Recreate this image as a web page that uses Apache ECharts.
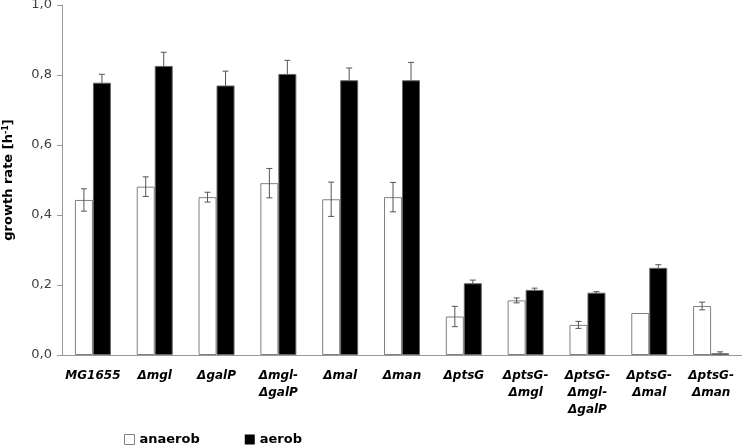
<!DOCTYPE html>
<html>
<head>
<meta charset="utf-8">
<script src="https://cdn.jsdelivr.net/npm/echarts@6/dist/echarts.min.js"></script>
<style>
  html, body { margin: 0; padding: 0; background: #fff; }
  #chart { width: 742px; height: 445px; }
</style>
</head>
<body>
<div id="chart"></div>
<script>
// strains
var strains = ['MG1655', 'Δmgl', 'ΔgalP', 'Δmgl-\nΔgalP', 'Δmal', 'Δman',
  'ΔptsG', 'ΔptsG-\nΔmgl', 'ΔptsG-\nΔmgl-\nΔgalP', 'ΔptsG-\nΔmal', 'ΔptsG-\nΔman'];
// growth rates [h-1]
var anaerob = [0.443, 0.481, 0.451, 0.491, 0.445, 0.451, 0.110, 0.156, 0.086, 0.120, 0.140];
var aerob = [0.778, 0.826, 0.770, 0.803, 0.785, 0.785, 0.205, 0.186, 0.178, 0.249, 0.005];
// standard deviations
var anaerobErr = [0.032, 0.028, 0.014, 0.042, 0.049, 0.042, 0.029, 0.007, 0.010, 0, 0.011];
var aerobErr = [0.024, 0.039, 0.041, 0.039, 0.035, 0.051, 0.009, 0.005, 0.003, 0.009, 0.004];

var barW = 18;

function errData(vals, errs) {
  return vals.map(function (v, i) { return [i, v, errs[i]]; });
}

function errRender(side) {
  return function (params, api) {
    var i = api.value(0), v = api.value(1), e = api.value(2);
    if (!e) return;
    var c = api.coord([i, v]);
    var x = c[0] + side * barW / 2;
    var yTop = api.coord([i, v + e])[1];
    var yBot = api.coord([i, v - e])[1];
    var st = { stroke: '#555', lineWidth: 1 };
    return {
      type: 'group',
      children: [
        { type: 'line', shape: { x1: x, y1: yTop, x2: x, y2: yBot }, style: st },
        { type: 'line', shape: { x1: x - 3, y1: yTop, x2: x + 3, y2: yTop }, style: st },
        { type: 'line', shape: { x1: x - 3, y1: yBot, x2: x + 3, y2: yBot }, style: st }
      ]
    };
  };
}

var myChart = echarts.init(document.getElementById('chart'));

var option = {
  animation: false,
  grid: { left: 62, right: 0, top: 5, bottom: 90, outerBoundsMode: 'none' },
  legend: {
    data: [
      { name: 'anaerob', itemStyle: { color: '#fff', borderColor: '#808080', borderWidth: 1 } },
      { name: 'aerob', itemStyle: { color: '#000', borderWidth: 0 } }
    ],
    left: 124,
    top: 433,
    padding: 0,
    itemWidth: 10,
    itemHeight: 10,
    itemGap: 45,
    icon: 'rect',
    textStyle: { fontFamily: 'DejaVu Sans', fontWeight: 'bold', fontSize: 13, color: '#000' }
  },
  xAxis: {
    type: 'category',
    data: strains,
    axisLine: { lineStyle: { color: '#999' } },
    axisTick: { length: 5, lineStyle: { color: '#999' } },
    axisLabel: {
      interval: 0,
      margin: 12,
      color: '#000',
      fontFamily: 'DejaVu Sans',
      fontWeight: 'bold',
      fontStyle: 'italic',
      fontSize: 12,
      lineHeight: 17,
      verticalAlign: 'top'
    }
  },
  yAxis: {
    type: 'value',
    min: 0,
    max: 1,
    interval: 0.2,
    name: '{a|growth rate [h}{s|-1}{a|]}',
    nameLocation: 'middle',
    nameGap: 46,
    nameTextStyle: {
      rich: {
        a: { fontFamily: 'DejaVu Sans', fontWeight: 'bold', fontSize: 13, color: '#000' },
        s: { fontFamily: 'DejaVu Sans', fontWeight: 'bold', fontSize: 8, color: '#000', verticalAlign: 'top', padding: [0, 0, 6, 0] }
      }
    },
    splitLine: { show: false },
    axisLine: { show: true, lineStyle: { color: '#999' } },
    axisTick: { show: true, length: 5, lineStyle: { color: '#999' } },
    axisLabel: {
      margin: 10,
      color: '#404040',
      fontFamily: 'DejaVu Sans',
      fontSize: 13,
      formatter: function (v) { return v.toFixed(1).replace('.', ','); }
    }
  },
  series: [
    {
      name: 'anaerob',
      type: 'bar',
      data: anaerob,
      barWidth: barW,
      barGap: '0%',
      z: 2,
      itemStyle: { color: '#fff', borderColor: '#808080', borderWidth: 1 }
    },
    {
      name: 'aerob',
      type: 'bar',
      data: aerob,
      barWidth: barW,
      barGap: '0%',
      z: 2,
      itemStyle: { color: '#000', borderColor: '#666', borderWidth: 1 }
    },
    {
      name: 'anaerobErr',
      type: 'custom',
      data: errData(anaerob, anaerobErr),
      renderItem: errRender(-1),
      z: 3,
      silent: true
    },
    {
      name: 'aerobErr',
      type: 'custom',
      data: errData(aerob, aerobErr),
      renderItem: errRender(1),
      z: 1,
      silent: true
    }
  ]
};

myChart.setOption(option);
</script>
</body>
</html>
